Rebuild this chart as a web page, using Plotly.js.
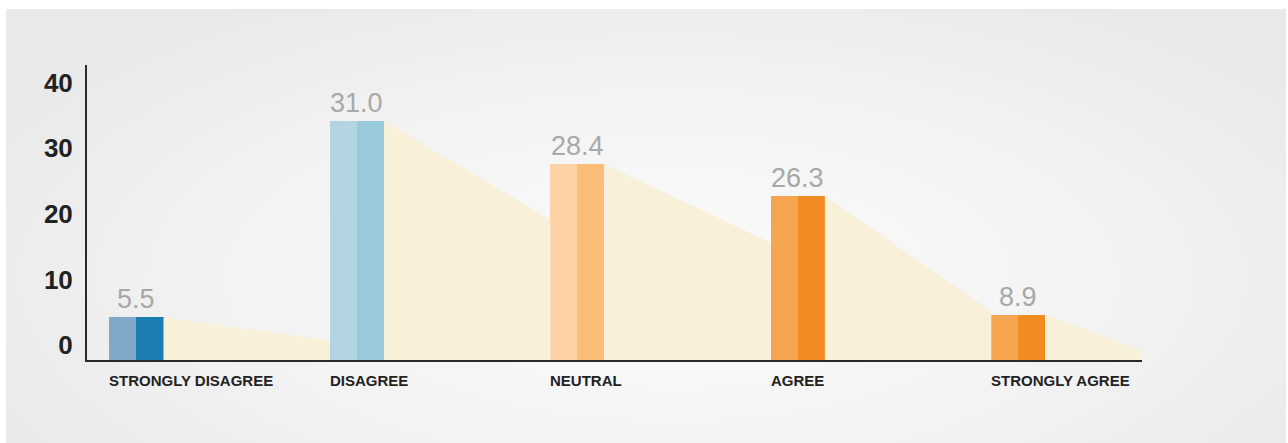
<!DOCTYPE html>
<html>
<head>
<meta charset="utf-8">
<script src="https://cdn.plot.ly/plotly-3.0.1.min.js"></script>
<style>
  html, body { margin: 0; padding: 0; background: #ffffff; }
  #wrap { position: relative; width: 1288px; height: 443px; overflow: hidden; }
  #panel { position: absolute; left: 6px; top: 9px; right: 2px; bottom: 0px;
           background: radial-gradient(ellipse 60% 75% at 52% 62%, #fbfbfb 0%, #f3f3f3 55%, #e9e9e9 100%); }
  #chart { position: absolute; left: 0; top: 0; width: 1288px; height: 443px; }
</style>
</head>
<body>
<div id="wrap"><div id="panel"></div><div id="chart"></div></div>
<script>
// ---- data ----
const categories = ["STRONGLY DISAGREE", "DISAGREE", "NEUTRAL", "AGREE", "STRONGLY AGREE"];
const valueLabels = [5.5, 31.0, 28.4, 26.3, 8.9];          // printed values
const barHeights = [6.5, 36.5, 29.9, 25.0, 6.9];           // drawn bar heights on the axis
const shadowEnds = [3.0, 21.4, 17.9, 7.4, 1.5];            // height where each cast shade meets the next bar
const yTicks = [0, 10, 20, 30, 40];
const leftColors = ["#80a8c8", "#b3d5e2", "#fdd3a6", "#f5a54f", "#f5a54f"];
const rightColors = ["#1b7db0", "#98c9dc", "#f9bd77", "#f08c22", "#f08c22"];

const hw = 0.1225;               // half-bar width (category units)
const idx = categories.map((_, i) => i);
const xMax = 4.561;

const traces = [];
// cast shades
idx.forEach(i => {
  const x0 = i + hw;
  const x1 = (i < categories.length - 1) ? (i + 1 - hw) : xMax;
  traces.push({
    type: 'scatter', mode: 'lines', fill: 'toself',
    x: [x0, x1, x1, x0, x0],
    y: [barHeights[i], shadowEnds[i], 0, 0, barHeights[i]],
    line: {width: 0, color: 'rgba(0,0,0,0)'},
    fillcolor: '#f8f0d8', hoverinfo: 'skip', showlegend: false
  });
});
// two-tone bars
traces.push({
  type: 'bar', x: idx, y: barHeights, width: hw, offset: -hw,
  marker: {color: leftColors, line: {width: 0}}, showlegend: false
});
traces.push({
  type: 'bar', x: idx, y: barHeights, width: hw, offset: 0,
  marker: {color: rightColors, line: {width: 0}}, showlegend: false
});

const fam = 'Liberation Sans, Arial, sans-serif';
const annotations = [];
idx.forEach(i => {
  annotations.push({
    x: i, y: barHeights[i], xref: 'x', yref: 'y', text: valueLabels[i].toFixed(1),
    showarrow: false, xanchor: 'center', yanchor: 'bottom', yshift: 1,
    font: {family: fam, size: 27, color: '#a8a8a8'}
  });
  annotations.push({
    x: i - hw, y: 0, xref: 'x', yref: 'y', text: '<b>' + categories[i] + '</b>',
    showarrow: false, xanchor: 'left', yanchor: 'top', yshift: -10, xshift: -2,
    font: {family: fam, size: 15, color: '#222222'}
  });
});

const layout = {
  width: 1288, height: 443,
  margin: {l: 87, r: 146, t: 65, b: 83},
  paper_bgcolor: 'rgba(0,0,0,0)', plot_bgcolor: 'rgba(0,0,0,0)',
  barmode: 'overlay', bargap: 0,
  showlegend: false,
  xaxis: {
    range: [-0.2245, xMax], showgrid: false, zeroline: false,
    showline: true, linecolor: '#2a2a2a', linewidth: 2,
    showticklabels: false, ticks: ''
  },
  yaxis: {
    range: [0, 45], showgrid: false, zeroline: false,
    showline: true, linecolor: '#2a2a2a', linewidth: 2,
    tickvals: yTicks, ticktext: yTicks.map(String), ticks: '',
    ticklabelshift: -15, ticklabelstandoff: 7,
    tickfont: {family: fam, size: 26, color: '#222222', weight: 'bold'}
  },
  annotations: annotations
};

Plotly.newPlot('chart', traces, layout, {displayModeBar: false, staticPlot: true});
</script>
</body>
</html>
